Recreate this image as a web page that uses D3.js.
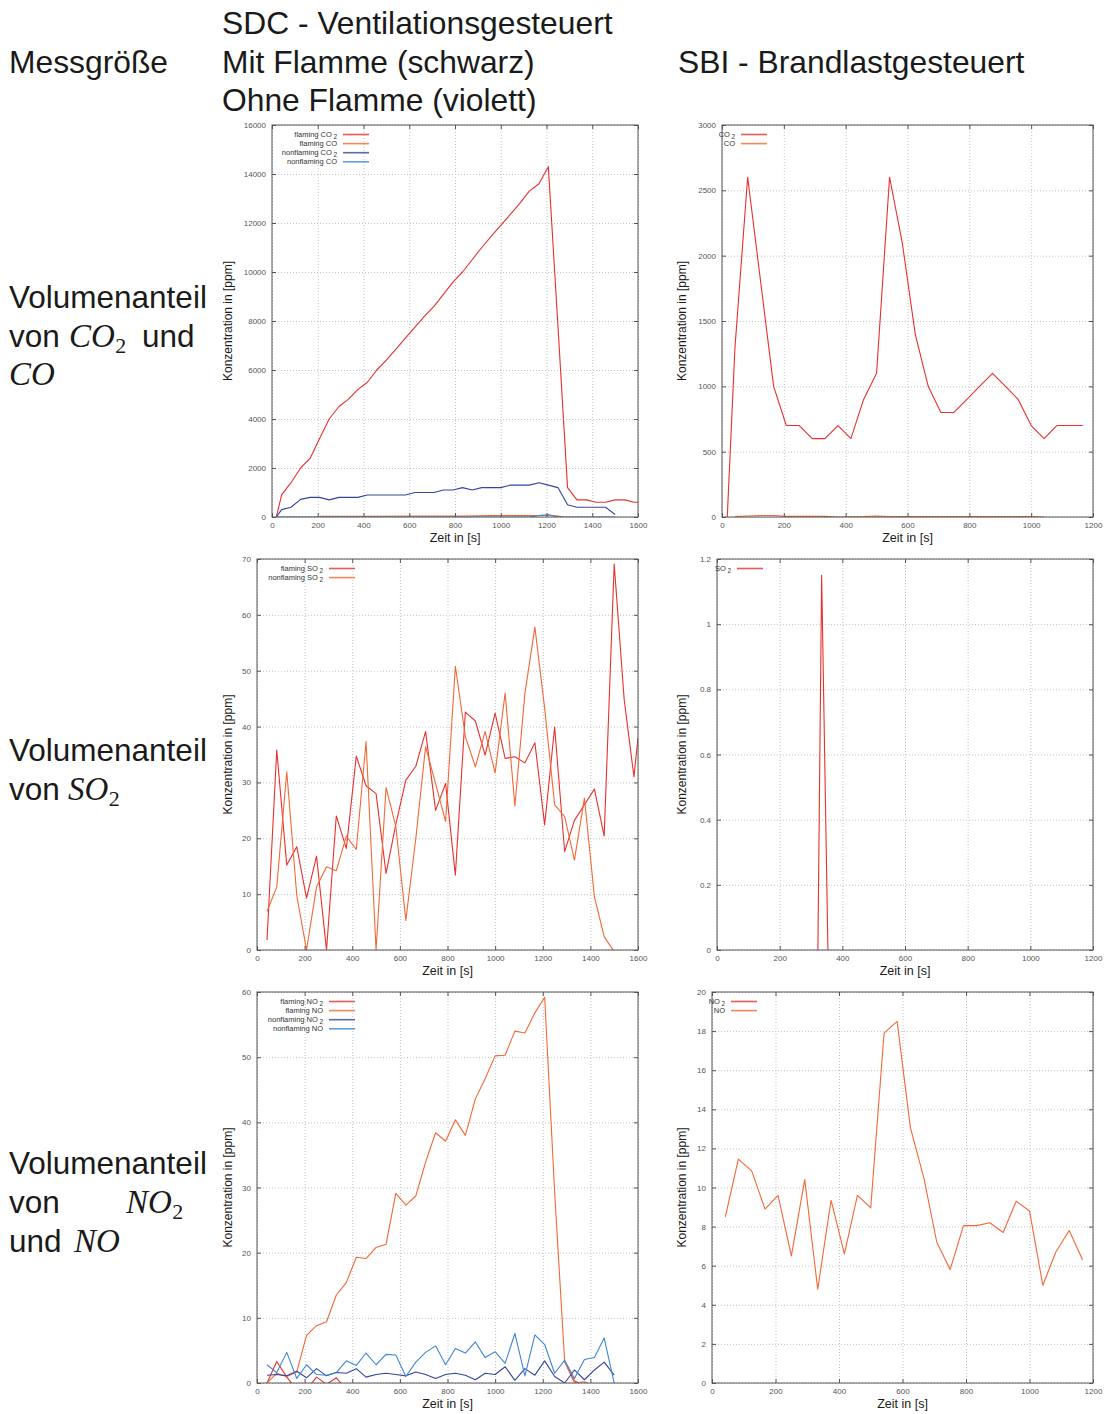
<!DOCTYPE html>
<html>
<head>
<meta charset="utf-8">
<script src="https://cdn.jsdelivr.net/npm/d3@7"></script>
<style>
  body { margin: 0; background: #fff; }
  svg { display: block; }
  .sans { font-family: "Liberation Sans", Arial, Helvetica, sans-serif; fill: #1a1a1a; }
  .math { font-family: "Liberation Serif", "Times New Roman", serif; font-style: italic; fill: #1a1a1a; }
  .sub { font-family: "Liberation Serif", "Times New Roman", serif; fill: #1a1a1a; }
  .tick text { font-family: "Liberation Sans", Arial, sans-serif; font-size: 8px; fill: #555; }
  .grid line { stroke: #c4c4c4; stroke-dasharray: 1,2; }
  .grid path { display: none; }
</style>
</head>
<body>
<div id="chart"></div>
<script>
// ---- data ----
// SDC, CO2 / CO
const sdcCo2FlamT = [19, 42, 83, 125, 167, 208, 250, 292, 333, 375, 417, 458, 500, 542, 583, 625, 667, 708, 750, 792, 833, 875, 917, 958, 1000, 1042, 1083, 1125, 1167, 1208, 1250, 1292, 1333, 1375, 1417, 1458, 1500, 1542, 1583, 1600];
const sdcCo2Flam = [0, 900, 1400, 2000, 2400, 3200, 4000, 4500, 4800, 5200, 5500, 6000, 6400, 6850, 7300, 7750, 8200, 8600, 9100, 9600, 10000, 10500, 11000, 11450, 11900, 12350, 12800, 13300, 13600, 14300, 7800, 1200, 700, 700, 600, 600, 700, 700, 600, 600];
const sdcCoFlamT = [208, 417, 625, 833, 958, 1000, 1167, 1208, 1250, 1270];
const sdcCoFlam = [30, 30, 40, 40, 60, 60, 60, 80, 40, 0];
const sdcCo2NonT = [19, 42, 83, 125, 167, 208, 250, 292, 333, 375, 417, 458, 500, 542, 583, 625, 667, 708, 750, 792, 833, 875, 917, 958, 1000, 1042, 1083, 1125, 1167, 1208, 1250, 1292, 1333, 1375, 1417, 1458, 1500];
const sdcCo2Non = [0, 300, 400, 720, 800, 800, 700, 800, 800, 800, 900, 900, 900, 900, 900, 1000, 1000, 1000, 1100, 1100, 1200, 1100, 1200, 1200, 1200, 1300, 1300, 1300, 1400, 1300, 1200, 500, 400, 400, 400, 400, 100];
const sdcCoNonT = [19, 1125, 1167, 1208, 1250, 1500];
const sdcCoNon = [0, 0, 60, 90, 0, 0];

// SBI, CO2 / CO
const sbiCo2T = [17, 42, 83, 125, 167, 208, 250, 292, 333, 375, 417, 458, 500, 542, 583, 625, 667, 708, 750, 792, 833, 875, 917, 958, 1000, 1042, 1083, 1125, 1167];
const sbiCo2 = [0, 1300, 2600, 1800, 1000, 700, 700, 600, 600, 700, 600, 900, 1100, 2600, 2100, 1400, 1000, 800, 800, 900, 1000, 1100, 1000, 900, 700, 600, 700, 700, 700];
const sbiCoT = [42, 83, 125, 167, 208, 333, 375, 458, 500, 542, 1000, 1042];
const sbiCo = [3, 8, 12, 12, 5, 5, 0, 3, 8, 3, 3, 0];

// SDC, SO2
const sdcSo2FlamT = [42, 83, 125, 167, 208, 250, 292, 333, 375, 417, 458, 500, 542, 583, 625, 667, 708, 750, 792, 833, 875, 917, 958, 1000, 1042, 1083, 1125, 1167, 1208, 1250, 1292, 1333, 1375, 1417, 1458, 1500, 1542, 1583, 1600];
const sdcSo2Flam = [1.8, 35.8, 15.2, 18.5, 9.3, 16.8, 0, 24, 18.2, 34.7, 29.4, 28, 13.7, 22.5, 30.4, 32.9, 39.1, 25, 29.8, 13.4, 42.6, 41, 34.9, 42.4, 34.3, 34.6, 33.5, 37.1, 22.4, 39.9, 17.6, 23.2, 26, 28.8, 20.4, 69.1, 44.8, 31, 38];
const sdcSo2NonT = [42, 83, 125, 167, 208, 250, 292, 333, 375, 417, 458, 500, 542, 583, 625, 667, 708, 750, 792, 833, 875, 917, 958, 1000, 1042, 1083, 1125, 1167, 1208, 1250, 1292, 1333, 1375, 1417, 1458, 1495];
const sdcSo2Non = [6.9, 11.3, 31.9, 9.8, 0, 11.3, 14.9, 14.2, 20.4, 18, 37.3, 0, 29.1, 22.1, 5.3, 20, 36.4, 29.8, 23, 50.8, 38.2, 32.8, 39.1, 31.7, 46, 25.8, 45.9, 57.8, 43.3, 26, 23.9, 16.1, 27.2, 9.5, 2.4, 0];

// SBI, SO2
const sbiSo2T = [322, 334, 354];
const sbiSo2 = [0, 1.15, 0];

// SDC, NO2 / NO  (null = no reading, line is broken there)
const sdcNo2FlamT = [42, 83, 125, 167, 208, 250, 292, 333, 375, 800, 1292, 1333, 1375, 1417];
const sdcNo2Flam = [0, 3.3, 0.9, -1, -1, 0.9, -0.2, 0.8, -1, null, 3.3, 0.3, -0.3, -1];
const sdcNoFlamT = [42, 83, 125, 167, 208, 250, 292, 333, 375, 417, 458, 500, 542, 583, 625, 667, 708, 750, 792, 833, 875, 917, 958, 1000, 1042, 1083, 1125, 1167, 1208, 1250, 1292, 1333, 1375, 1417];
const sdcNoFlam = [0, 1.5, 1.0, 1.7, 7.3, 8.8, 9.4, 13.5, 15.4, 19.3, 19.1, 20.8, 21.3, 29.1, 27.3, 28.7, 33.9, 38.4, 37.1, 40.4, 38, 43.6, 46.7, 50.2, 50.3, 54, 53.7, 56.8, 59.2, 29.3, 3.3, 0, 0.2, -0.5];
const sdcNonT = [42, 83, 125, 167, 208, 250, 292, 333, 375, 417, 458, 500, 542, 583, 625, 667, 708, 750, 792, 833, 875, 917, 958, 1000, 1042, 1083, 1125, 1167, 1208, 1250, 1292, 1333, 1375, 1417, 1458, 1500];
const sdcNo2Non = [1.2, 1.3, 1.1, 1.8, 0.8, 2.2, 1.1, 1.6, 1.5, 2.2, 0.9, 1.3, 1.5, 1.3, 1.1, 1.7, 1.3, 0.7, 1.3, 1.5, 1.2, 0.5, 1.5, 1.3, 2.5, 0.4, 2.2, 1.2, 3.4, 1.0, 0, 2.0, 0.5, 2.0, 3.2, 1.2];
const sdcNoNon = [2.8, 1.6, 4.7, 0.7, 2.8, 1.3, 1.2, 1.6, 3.4, 2.7, 4.6, 2.8, 4.4, 4.3, 1.0, 3.2, 4.7, 5.7, 2.8, 5.3, 4.6, 6.3, 3.9, 4.8, 3.0, 7.6, 1.1, 7.4, 5.9, 1.5, 3.5, 0.7, 3.6, 3.9, 6.9, 0];

// SBI, NO2 / NO
const sbiNoT = [42, 83, 125, 167, 208, 250, 292, 333, 375, 417, 458, 500, 542, 583, 625, 667, 708, 750, 792, 833, 875, 917, 958, 1000, 1042, 1083, 1125, 1167];
const sbiNo = [8.5, 11.45, 10.85, 8.9, 9.6, 6.5, 10.4, 4.8, 9.35, 6.6, 9.6, 8.96, 17.9, 18.5, 13.05, 10.5, 7.2, 5.8, 8.05, 8.05, 8.2, 7.7, 9.3, 8.8, 5.0, 6.7, 7.8, 6.3];

// axis ticks
const xTicksSdc = d3.range(0, 1601, 200);
const xTicksSbi = d3.range(0, 1201, 200);

const RED = '#e8302e', ORANGE = '#f26836', DBLUE = '#3444a0', LBLUE = '#3d86d6';

const zip = (t, v) => t.map((d, i) => [d, v[i]]);

const svg = d3.select('#chart').append('svg').attr('width', 1105).attr('height', 1414);

// ---- page text ----
const txt = (x, y, s, cls, size) => svg.append('text').attr('class', cls)
  .attr('x', x).attr('y', y).style('font-size', size + 'px').text(s);

// italic formula with an upright subscript set right after it
function formula(x, y, base, sub) {
  const b = txt(x, y, base, 'math', 33);
  if (sub) txt(x + b.node().getComputedTextLength() + 0.5, y + 6, sub, 'sub', 22);
}

txt(222, 34, 'SDC - Ventilationsgesteuert', 'sans', 31.8);
txt(9, 73, 'Messgröße', 'sans', 31.8);
txt(222, 73, 'Mit Flamme (schwarz)', 'sans', 31.8);
txt(678, 73, 'SBI - Brandlastgesteuert', 'sans', 31.8);
txt(222, 111, 'Ohne Flamme (violett)', 'sans', 31.8);

// row labels
txt(9, 308, 'Volumenanteil', 'sans', 31.5);
txt(9, 347, 'von', 'sans', 31.5);
formula(69, 347, 'CO', '2');
txt(142, 347, 'und', 'sans', 31.5);
formula(9, 385, 'CO');

txt(9, 761, 'Volumenanteil', 'sans', 31.5);
txt(9, 800, 'von', 'sans', 31.5);
formula(68, 800, 'SO', '2');

txt(9, 1174, 'Volumenanteil', 'sans', 31.5);
txt(9, 1213, 'von', 'sans', 31.5);
formula(126, 1213, 'NO', '2');
txt(9, 1252, 'und', 'sans', 31.5);
formula(74, 1252, 'NO');

// ---- panels ----
let clipId = 0;
function panel(p) {
  const w = p.right - p.left, h = p.bottom - p.top;
  const x = d3.scaleLinear().domain(p.xDomain).range([0, w]);
  const y = d3.scaleLinear().domain(p.yDomain).range([h, 0]);
  const g = svg.append('g').attr('transform', `translate(${p.left},${p.top})`);

  // grid
  g.append('g').attr('class', 'grid').attr('transform', `translate(0,${h})`)
    .call(d3.axisBottom(x).tickValues(p.xTicks).tickSize(-h).tickFormat(''));
  g.append('g').attr('class', 'grid')
    .call(d3.axisLeft(y).tickValues(p.yTicks).tickSize(-w).tickFormat(''));

  // lines
  const id = 'clip' + (clipId++);
  g.append('clipPath').attr('id', id).append('rect').attr('width', w).attr('height', h);
  const line = d3.line().defined(d => d[1] != null).x(d => x(d[0])).y(d => y(d[1]));
  p.series.forEach(s => {
    if (!s.data.length) return;
    g.append('path').datum(s.data).attr('clip-path', `url(#${id})`)
      .attr('fill', 'none').attr('stroke', s.color).attr('stroke-width', 1.1)
      .attr('stroke-linejoin', 'round').attr('d', line);
  });

  // frame + inward ticks on all sides
  const fmt = d => String(+d.toFixed(1));
  const styleAxis = a => { a.select('.domain').remove(); a.selectAll('.tick line').attr('stroke', '#555'); };
  g.append('g').attr('transform', `translate(0,${h})`)
    .call(d3.axisBottom(x).tickValues(p.xTicks).tickSize(-4).tickPadding(5).tickFormat(fmt)).call(styleAxis);
  g.append('g')
    .call(d3.axisTop(x).tickValues(p.xTicks).tickSize(-4).tickFormat('')).call(styleAxis);
  g.append('g')
    .call(d3.axisLeft(y).tickValues(p.yTicks).tickSize(-4).tickPadding(6).tickFormat(fmt)).call(styleAxis);
  g.append('g').attr('transform', `translate(${w},0)`)
    .call(d3.axisRight(y).tickValues(p.yTicks).tickSize(-4).tickFormat('')).call(styleAxis);
  g.append('rect').attr('width', w).attr('height', h)
    .attr('fill', 'none').attr('stroke', '#555').attr('stroke-width', 1);

  // legend
  const lg = g.append('g').attr('transform', `translate(${p.legendEnd},9.5)`);
  p.series.forEach((s, i) => {
    const row = lg.append('g').attr('transform', `translate(0,${i * 9.1})`);
    const t = row.append('text').attr('class', 'sans').attr('text-anchor', 'end')
      .attr('y', 2.5).style('font-size', '7.5px').style('fill', '#333');
    t.append('tspan').text(s.name);
    if (s.sub) t.append('tspan').attr('dx', 1.5).attr('dy', 2).style('font-size', '6.5px').text(s.sub);
    row.append('line').attr('x1', 6).attr('x2', 32)
      .attr('stroke', s.color).attr('stroke-width', 1.6).attr('opacity', 0.8);
  });

  // axis titles
  svg.append('text').attr('class', 'sans').attr('text-anchor', 'middle')
    .attr('x', p.left + w / 2).attr('y', p.bottom + 24.5)
    .style('font-size', '12.5px').text('Zeit in [s]');
  svg.append('text').attr('class', 'sans').attr('text-anchor', 'middle')
    .attr('transform', `translate(${p.yLabelX},${p.top + h / 2}) rotate(-90)`)
    .attr('dy', '0.35em').style('font-size', '12px').text('Konzentration in [ppm]');
}

panel({
  left: 272, right: 638, top: 125, bottom: 517, yLabelX: 228, legendEnd: 65,
  xDomain: [0, 1600], xTicks: xTicksSdc, yDomain: [0, 16000], yTicks: d3.range(0, 16001, 2000),
  series: [
    {name: 'flaming CO', sub: '2', color: RED, data: zip(sdcCo2FlamT, sdcCo2Flam)},
    {name: 'flaming CO', color: ORANGE, data: zip(sdcCoFlamT, sdcCoFlam)},
    {name: 'nonflaming CO', sub: '2', color: DBLUE, data: zip(sdcCo2NonT, sdcCo2Non)},
    {name: 'nonflaming CO', color: LBLUE, data: zip(sdcCoNonT, sdcCoNon)}
  ]
});
panel({
  left: 722, right: 1093, top: 125, bottom: 517, yLabelX: 682, legendEnd: 13,
  xDomain: [0, 1200], xTicks: xTicksSbi, yDomain: [0, 3000], yTicks: d3.range(0, 3001, 500),
  series: [
    {name: 'CO', sub: '2', color: RED, data: zip(sbiCo2T, sbiCo2)},
    {name: 'CO', color: ORANGE, data: zip(sbiCoT, sbiCo)}
  ]
});
panel({
  left: 257, right: 638, top: 559, bottom: 950, yLabelX: 228, legendEnd: 66,
  xDomain: [0, 1600], xTicks: xTicksSdc, yDomain: [0, 70], yTicks: d3.range(0, 71, 10),
  series: [
    {name: 'flaming SO', sub: '2', color: RED, data: zip(sdcSo2FlamT, sdcSo2Flam)},
    {name: 'nonflaming SO', sub: '2', color: ORANGE, data: zip(sdcSo2NonT, sdcSo2Non)}
  ]
});
panel({
  left: 717, right: 1093, top: 559, bottom: 950, yLabelX: 682, legendEnd: 14,
  xDomain: [0, 1200], xTicks: xTicksSbi, yDomain: [0, 1.2], yTicks: [0, 0.2, 0.4, 0.6, 0.8, 1, 1.2],
  series: [
    {name: 'SO', sub: '2', color: RED, data: zip(sbiSo2T, sbiSo2)}
  ]
});
panel({
  left: 257, right: 638, top: 992, bottom: 1383, yLabelX: 228, legendEnd: 66,
  xDomain: [0, 1600], xTicks: xTicksSdc, yDomain: [0, 60], yTicks: d3.range(0, 61, 10),
  series: [
    {name: 'flaming NO', sub: '2', color: RED, data: zip(sdcNo2FlamT, sdcNo2Flam)},
    {name: 'flaming NO', color: ORANGE, data: zip(sdcNoFlamT, sdcNoFlam)},
    {name: 'nonflaming NO', sub: '2', color: DBLUE, data: zip(sdcNonT, sdcNo2Non)},
    {name: 'nonflaming NO', color: LBLUE, data: zip(sdcNonT, sdcNoNon)}
  ]
});
panel({
  left: 712, right: 1093, top: 992, bottom: 1383, yLabelX: 682, legendEnd: 13,
  xDomain: [0, 1200], xTicks: xTicksSbi, yDomain: [0, 20], yTicks: d3.range(0, 21, 2),
  series: [
    {name: 'NO', sub: '2', color: RED, data: []},
    {name: 'NO', color: ORANGE, data: zip(sbiNoT, sbiNo)}
  ]
});
</script>
</body>
</html>
